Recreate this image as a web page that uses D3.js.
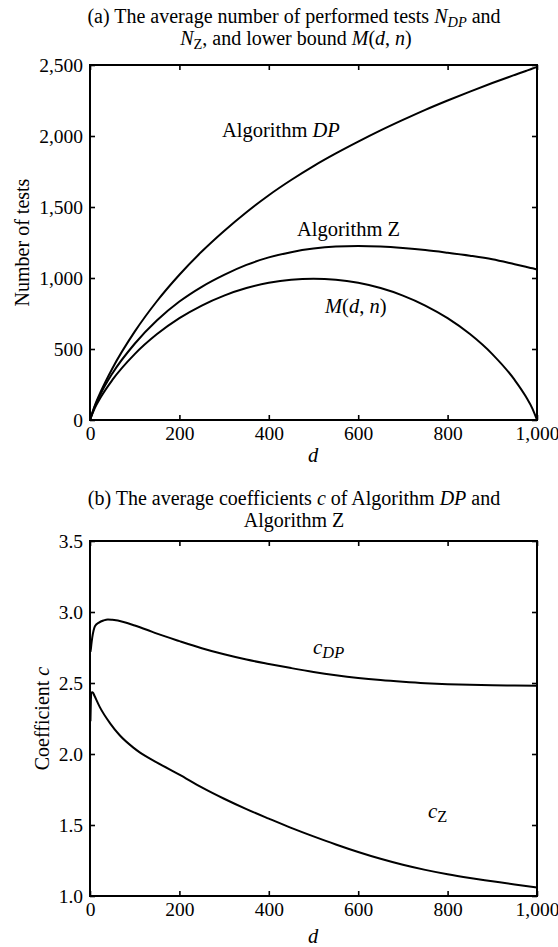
<!DOCTYPE html>
<html>
<head>
<meta charset="utf-8">
<script src="https://cdn.jsdelivr.net/npm/d3@7"></script>
<style>
  html, body { margin: 0; padding: 0; background: #fff; }
  svg text { font-family: "Liberation Serif", "Times New Roman", serif; fill: #000; }
</style>
</head>
<body>
<svg id="chart" width="558" height="947"></svg>
<script>
// ---------- Data (panel a) ----------
const dA = [0, 10, 25, 50, 100, 150, 200, 250, 300, 350, 400, 450, 500, 550, 600, 650, 700, 750, 800, 850, 900, 950, 975, 990, 1000];
const testsDP = [0, 95, 206, 363, 622, 838, 1023, 1186, 1331, 1463, 1583, 1690, 1788, 1877, 1960, 2039, 2113, 2184, 2250, 2313, 2373, 2430, 2458, 2475, 2485];
const testsZ  = [0, 90, 192, 328, 537, 702, 834, 938, 1022, 1092, 1145, 1182, 1207, 1221, 1225, 1221, 1211, 1197, 1178, 1157, 1132, 1097, 1079, 1068, 1060];
const boundM  = [0, 78, 165, 282, 464, 605, 717, 806, 876, 929, 966, 988, 995, 988, 966, 929, 876, 806, 717, 605, 464, 282, 165, 78, 0];
const xTicks = [0, 200, 400, 600, 800, 1000];
const yTicksA = [0, 500, 1000, 1500, 2000, 2500];

// ---------- Data (panel b) ----------
const dB  = [1, 2, 3, 5, 8, 11, 20, 30, 40, 50, 75, 100, 127, 150, 200, 250, 300, 350, 400, 450, 500, 550, 600, 650, 700, 750, 800, 850, 900, 950, 1000];
const coefDP = [2.72, 2.74, 2.77, 2.82, 2.87, 2.90, 2.925, 2.94, 2.948, 2.945, 2.93, 2.905, 2.875, 2.848, 2.795, 2.745, 2.702, 2.665, 2.634, 2.605, 2.578, 2.555, 2.536, 2.521, 2.509, 2.499, 2.492, 2.487, 2.484, 2.482, 2.48];
const dBZ = [1, 2, 3, 5, 7, 10, 22, 45, 67, 97, 112, 150, 200, 250, 300, 350, 400, 450, 500, 550, 600, 650, 700, 750, 800, 850, 900, 950, 1000];
const coefZ = [2.23, 2.38, 2.43, 2.435, 2.43, 2.41, 2.33, 2.216, 2.13, 2.045, 2.01, 1.94, 1.855, 1.765, 1.685, 1.612, 1.545, 1.48, 1.42, 1.363, 1.31, 1.262, 1.22, 1.184, 1.153, 1.127, 1.104, 1.081, 1.06];
const yTicksB = [1.0, 1.5, 2.0, 2.5, 3.0, 3.5];

const svg = d3.select("#chart");
const L = 90, R = 537;
const panels = [
  { top: 65, bottom: 420 },
  { top: 541, bottom: 896 }
];
const TICK_FONT = "19.5px";

function drawFrame(g, x, y, yTicks, yFmt, p) {
  g.append("g").attr("transform", `translate(0,${p.bottom})`)
    .call(d3.axisBottom(x).tickValues(xTicks).tickSizeInner(-5).tickSizeOuter(0).tickFormat(d3.format(",")))
    .call(a => a.select(".domain").remove())
    .call(a => a.selectAll("line").attr("stroke", "#000").attr("stroke-width", 1.6))
    .call(a => a.selectAll("text").attr("y", 20).attr("dy", null).style("font-size", TICK_FONT));
  g.append("g").attr("transform", `translate(0,${p.top})`)
    .call(d3.axisTop(x).tickValues(xTicks).tickSizeInner(-5).tickSizeOuter(0).tickFormat(""))
    .call(a => a.select(".domain").remove())
    .call(a => a.selectAll("line").attr("stroke", "#000").attr("stroke-width", 1.6));
  g.append("g").attr("transform", `translate(${L},0)`)
    .call(d3.axisLeft(y).tickValues(yTicks).tickSizeInner(-5).tickSizeOuter(0).tickFormat(yFmt))
    .call(a => a.select(".domain").remove())
    .call(a => a.selectAll("line").attr("stroke", "#000").attr("stroke-width", 1.6))
    .call(a => a.selectAll("text").attr("x", -7).attr("dy", "0.34em").style("font-size", TICK_FONT));
  g.append("g").attr("transform", `translate(${R},0)`)
    .call(d3.axisRight(y).tickValues(yTicks).tickSizeInner(-5).tickSizeOuter(0).tickFormat(""))
    .call(a => a.select(".domain").remove())
    .call(a => a.selectAll("line").attr("stroke", "#000").attr("stroke-width", 1.6));
  g.append("rect")
    .attr("x", L).attr("y", p.top).attr("width", R - L).attr("height", p.bottom - p.top)
    .attr("fill", "none").attr("stroke", "#000").attr("stroke-width", 2);
}

function addText(g, x, y, parts, size, anchor, subRatio) {
  const t = g.append("text").attr("x", x).attr("y", y)
    .attr("text-anchor", anchor || "middle").style("font-size", size + "px");
  parts.forEach(pt => {
    const s = t.append("tspan").text(pt.t);
    if (pt.i) s.style("font-style", "italic");
    if (pt.sub) s.attr("baseline-shift", "-25%").style("font-size", (size * (subRatio || 0.72)) + "px");
  });
  return t;
}

// ---------- Panel a ----------
{
  const p = panels[0];
  const g = svg.append("g");
  const x = d3.scaleLinear().domain([0, 1000]).range([L, R]);
  const y = d3.scaleLinear().domain([0, 2500]).range([p.bottom, p.top]);
  const line = d3.line().x(d => x(d[0])).y(d => y(d[1])).curve(d3.curveMonotoneX);
  [testsDP, testsZ, boundM].forEach(vals => {
    g.append("path").datum(dA.map((d, i) => [d, vals[i]]))
      .attr("d", line).attr("fill", "none").attr("stroke", "#000").attr("stroke-width", 2);
  });
  drawFrame(g, x, y, yTicksA, d3.format(","), p);

  addText(g, 294, 23, [{t: "(a) The average number of performed tests "}, {t: "N", i: true}, {t: "DP", i: true, sub: true}, {t: " and"}], 20);
  addText(g, 296, 45, [{t: "N", i: true}, {t: "Z", sub: true}, {t: ", and lower bound "}, {t: "M", i: true}, {t: "("}, {t: "d", i: true}, {t: ", "}, {t: "n", i: true}, {t: ")"}], 20);
  addText(g, 222, 137, [{t: "Algorithm "}, {t: "DP", i: true}], 20.5, "start");
  addText(g, 297, 236, [{t: "Algorithm Z"}], 20.5, "start");
  addText(g, 325, 313, [{t: "M", i: true}, {t: "("}, {t: "d", i: true}, {t: ", "}, {t: "n", i: true}, {t: ")"}], 20.5, "start");
  addText(g, 313, 462, [{t: "d", i: true}], 20.5);
  g.append("text").attr("transform", `translate(29,${(p.top + p.bottom) / 2}) rotate(-90)`)
    .attr("text-anchor", "middle").style("font-size", "20px").text("Number of tests");
}

// ---------- Panel b ----------
{
  const p = panels[1];
  const g = svg.append("g");
  const x = d3.scaleLinear().domain([0, 1000]).range([L, R]);
  const y = d3.scaleLinear().domain([1, 3.5]).range([p.bottom, p.top]);
  const line = d3.line().x(d => x(d[0])).y(d => y(d[1])).curve(d3.curveMonotoneX);
  g.append("path").datum(dB.map((d, i) => [d, coefDP[i]]))
    .attr("d", line).attr("fill", "none").attr("stroke", "#000").attr("stroke-width", 2);
  g.append("path").datum(dBZ.map((d, i) => [d, coefZ[i]]))
    .attr("d", line).attr("fill", "none").attr("stroke", "#000").attr("stroke-width", 2);
  drawFrame(g, x, y, yTicksB, d3.format(".1f"), p);

  addText(g, 294, 505, [{t: "(b) The average coefficients "}, {t: "c", i: true}, {t: " of Algorithm "}, {t: "DP", i: true}, {t: " and"}], 20);
  addText(g, 294, 527, [{t: "Algorithm Z"}], 20);
  addText(g, 313, 654, [{t: "c", i: true}, {t: "DP", i: true, sub: true}], 21, "start", 0.78);
  addText(g, 428, 818, [{t: "c", i: true}, {t: "Z", sub: true}], 21, "start", 0.78);
  addText(g, 313, 943, [{t: "d", i: true}], 20.5);
  g.append("text").attr("transform", `translate(49,${(p.top + p.bottom) / 2}) rotate(-90)`)
    .attr("text-anchor", "middle").style("font-size", "20px")
    .call(t => { t.append("tspan").text("Coefficient "); t.append("tspan").style("font-style", "italic").text("c"); });
}
</script>
</body>
</html>
